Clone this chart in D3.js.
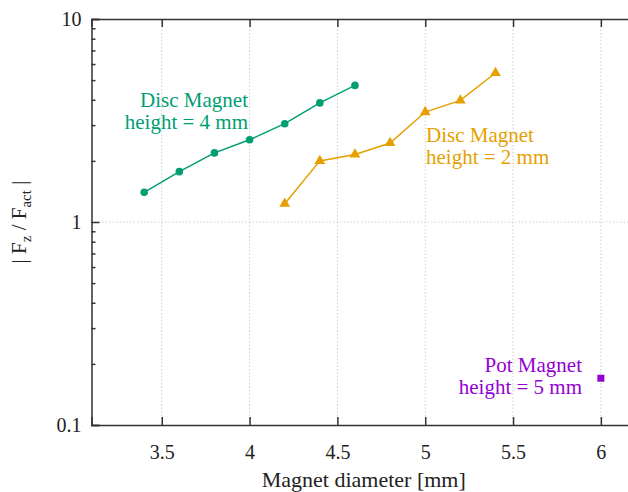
<!DOCTYPE html>
<html>
<head>
<meta charset="utf-8">
<script src="https://cdn.jsdelivr.net/npm/d3@7"></script>
<style>
  html, body { margin: 0; padding: 0; background: #fff; }
  svg { display: block; }
</style>
</head>
<body>
<svg id="chart" width="628" height="492"></svg>
<script>
// ---- data ----
const discH4Diameter = [3.4, 3.6, 3.8, 4.0, 4.2, 4.4, 4.6];
const discH4Ratio    = [1.40, 1.77, 2.19, 2.54, 3.05, 3.86, 4.71];
const discH2Diameter = [4.2, 4.4, 4.6, 4.8, 5.0, 5.2, 5.4];
const discH2Ratio    = [1.23, 2.00, 2.15, 2.45, 3.48, 3.97, 5.42];
const potH5Diameter  = [6.0];
const potH5Ratio     = [0.17];
const xTicks = [3.5, 4, 4.5, 5, 5.5, 6];
const yTicks = [0.1, 1, 10];
const xDomain = [3.1, 6.2];
const yDomain = [0.1, 10];

const colGreen = "#009e73", colOrange = "#e69f00", colPurple = "#9400d3";
const FONT = "'Liberation Serif', 'DejaVu Serif', serif";

const svg = d3.select("#chart").attr("font-family", FONT);
const L = 91.5, T = 19, B = 425, R = 636;

const x = d3.scaleLinear().domain(xDomain).range([L, R]);
const y = d3.scaleLog().domain(yDomain).range([B, T]);

// grid
const grid = svg.append("g");
grid.selectAll(".gx").data(xTicks).enter().append("line")
  .attr("x1", d => x(d)).attr("x2", d => x(d))
  .attr("y1", T).attr("y2", B)
  .attr("stroke", "#cfcfcf").attr("stroke-width", 1).attr("stroke-dasharray", "1.5,2");
grid.selectAll(".gy").data(yTicks.filter(d => d > yDomain[0] && d < yDomain[1])).enter().append("line")
  .attr("x1", L).attr("x2", R)
  .attr("y1", d => y(d)).attr("y2", d => y(d))
  .attr("stroke", "#cfcfcf").attr("stroke-width", 1).attr("stroke-dasharray", "1.5,2");

// axes
const axisColor = "#333";
const minorY = [];
[0.1, 1].forEach(dec => { for (let k = 2; k <= 9; k++) minorY.push(dec * k); });

const xAxisB = d3.axisBottom(x).tickValues(xTicks).tickSize(-8).tickPadding(20).tickFormat(d3.format("~g"));
const gxb = svg.append("g").attr("transform", `translate(0,${B})`).call(xAxisB);
const xAxisT = d3.axisTop(x).tickValues(xTicks).tickSize(-8).tickFormat("");
const gxt = svg.append("g").attr("transform", `translate(0,${T})`).call(xAxisT);
const yAxisL = d3.axisLeft(y).tickValues(yTicks).tickSize(-8).tickPadding(10).tickFormat(d3.format("~g"));
const gyl = svg.append("g").attr("transform", `translate(${L},0)`).call(yAxisL);
const yAxisLm = d3.axisLeft(y).tickValues(minorY).tickSize(-4).tickFormat("");
const gylm = svg.append("g").attr("transform", `translate(${L},0)`).call(yAxisLm);
const yAxisR = d3.axisRight(y).tickValues(yTicks).tickSize(-8).tickFormat("");
const gyr = svg.append("g").attr("transform", `translate(${R},0)`).call(yAxisR);

[gxb, gxt, gyl, gylm, gyr].forEach(g => {
  g.attr("font-family", FONT).attr("font-size", 20);
  g.select(".domain").attr("stroke", axisColor).attr("stroke-width", 1.5);
  g.selectAll(".tick line").attr("stroke", axisColor).attr("stroke-width", 1.5);
  g.selectAll(".tick text").attr("fill", "#222");
});
gylm.select(".domain").remove();

// line generator
const line = d3.line().x(d => x(d[0])).y(d => y(d[1]));

function series(xs, ys, color) {
  const pts = xs.map((v, i) => [v, ys[i]]);
  svg.append("path").datum(pts).attr("d", line)
    .attr("fill", "none").attr("stroke", color).attr("stroke-width", 1.5);
  return pts;
}

const g4 = series(discH4Diameter, discH4Ratio, colGreen);
svg.selectAll(".c4").data(g4).enter().append("circle")
  .attr("cx", d => x(d[0])).attr("cy", d => y(d[1])).attr("r", 3.8).attr("fill", colGreen);

const g2 = series(discH2Diameter, discH2Ratio, colOrange);
const tri = d3.symbol().type(d3.symbolTriangle).size(50);
svg.selectAll(".t2").data(g2).enter().append("path")
  .attr("d", tri).attr("transform", d => `translate(${x(d[0])},${y(d[1])})`).attr("fill", colOrange);

const p5 = potH5Diameter.map((v, i) => [v, potH5Ratio[i]]);
svg.selectAll(".s5").data(p5).enter().append("rect")
  .attr("x", d => x(d[0]) - 3.5).attr("y", d => y(d[1]) - 3.5)
  .attr("width", 7).attr("height", 7).attr("fill", colPurple);

// annotations
function label(lines, xp, yp, anchor, color) {
  const t = svg.append("text").attr("text-anchor", anchor).attr("fill", color)
    .attr("font-family", FONT).attr("font-size", 21);
  lines.forEach((s, i) => t.append("tspan").attr("x", xp).attr("y", yp + i * 22).text(s));
}
label(["Disc Magnet", "height = 4 mm"], 248, 107, "end", colGreen);
label(["Disc Magnet", "height = 2 mm"], 426, 142, "start", colOrange);
label(["Pot Magnet", "height = 5 mm"], 582, 372, "end", colPurple);

// axis titles
svg.append("text").attr("x", (L + R) / 2).attr("y", 487).attr("text-anchor", "middle")
  .attr("fill", "#222").attr("font-family", FONT).attr("font-size", 22).text("Magnet diameter [mm]");

const yl = svg.append("text").attr("transform", "translate(26,222) rotate(-90)")
  .attr("text-anchor", "middle").attr("fill", "#222").attr("font-family", FONT).attr("font-size", 21);
yl.append("tspan").text("| F");
yl.append("tspan").attr("dy", 5).attr("font-size", 15).text("z");
yl.append("tspan").attr("dy", -5).text(" / F");
yl.append("tspan").attr("dy", 5).attr("font-size", 15).text("act");
yl.append("tspan").attr("dy", -5).text(" |");
</script>
</body>
</html>
